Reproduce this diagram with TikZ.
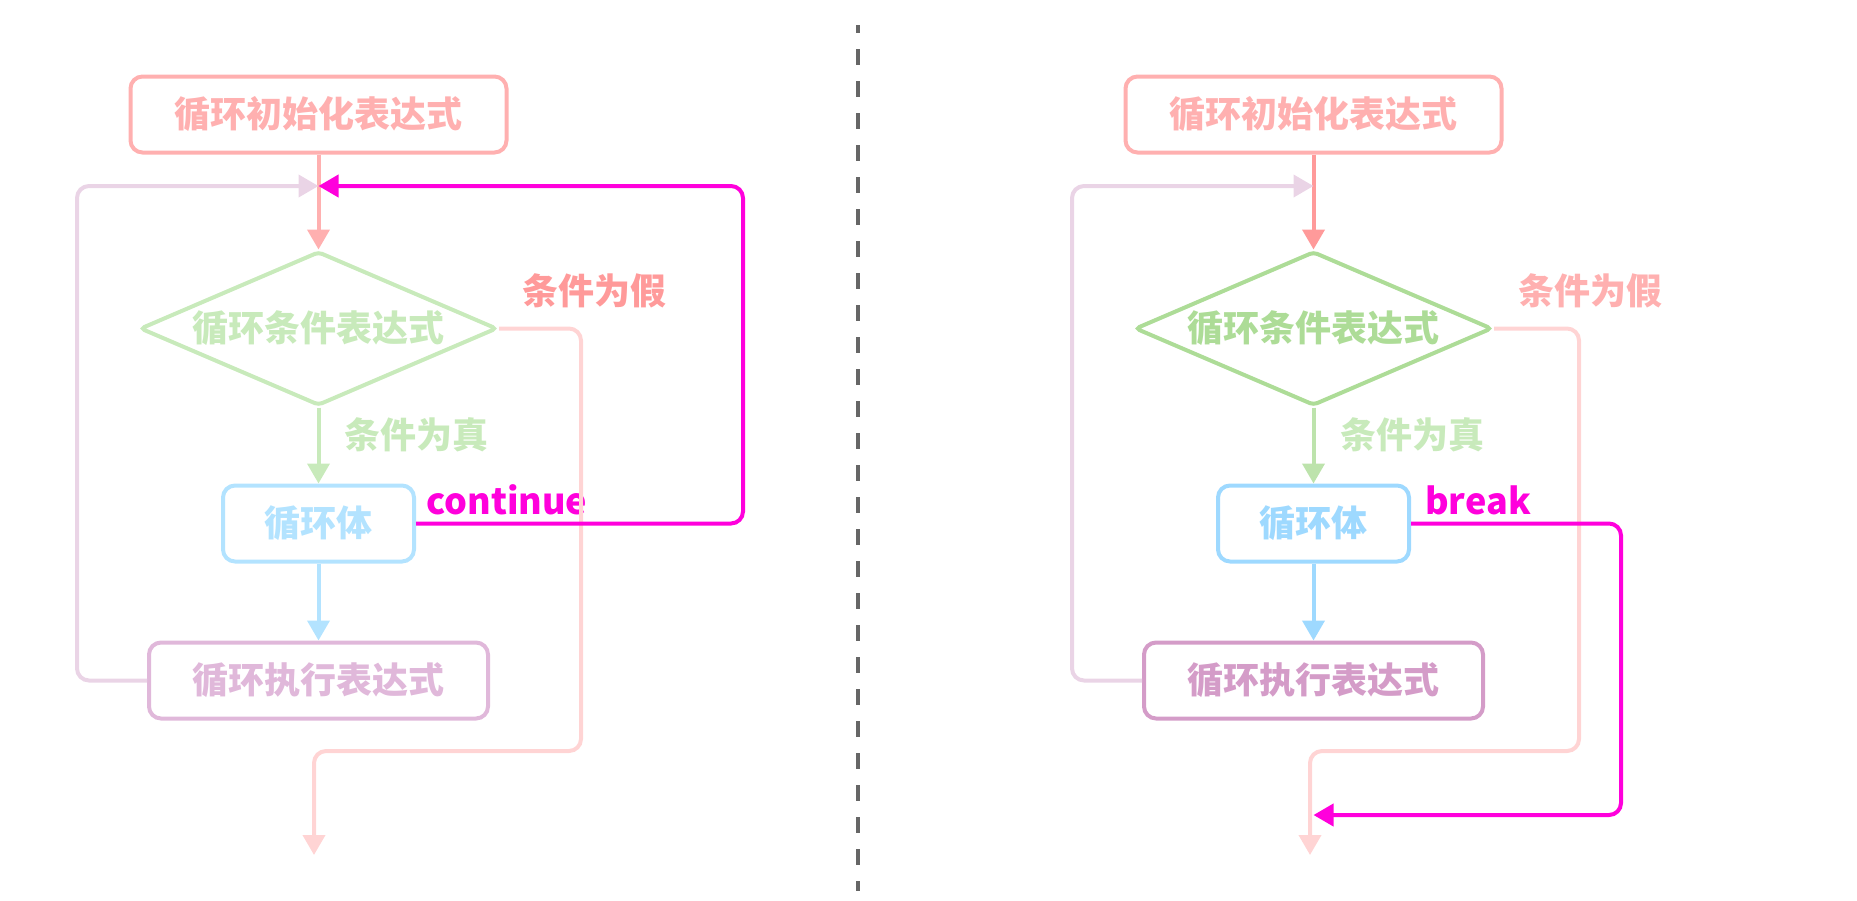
\documentclass[tikz,border=0pt]{standalone}
\usepackage{fontspec}
\setmainfont{Noto Sans CJK SC}
\usepackage{tikz}
\usetikzlibrary{arrows.meta,positioning,shapes.geometric}

\definecolor{initc}{HTML}{FFB0B0}
\definecolor{initd}{HTML}{FF9A9A}
\definecolor{condc}{HTML}{C8EABB}
\definecolor{condd}{HTML}{ADDC97}
\definecolor{bodyc}{HTML}{B3E3FF}
\definecolor{bodyd}{HTML}{9ED9FF}
\definecolor{execc}{HTML}{E0B8DA}
\definecolor{execd}{HTML}{D49CC8}
\definecolor{backc}{HTML}{EAD4E6}
\definecolor{falsec}{HTML}{FFD4D4}
\definecolor{jumpc}{HTML}{FF00DC}
\definecolor{sepc}{HTML}{666666}

\begin{document}
\begin{tikzpicture}[
  x=1pt,y=-1pt,
  >={Triangle[width=22pt,length=20pt]},
  box/.style={draw,rounded corners=12pt,line width=4pt,minimum height=76pt,inner sep=0pt,font=\fontsize{36}{40}\selectfont\bfseries},
  cond/.style={draw,diamond,aspect=2.32,rounded corners=4pt,line width=4pt,minimum width=357pt,minimum height=154pt,inner sep=0pt,font=\fontsize{36}{40}\selectfont\bfseries},
  lab/.style={inner sep=0pt,font=\fontsize{36}{40}\selectfont\bfseries},
  kw/.style={inner sep=0pt,font=\fontsize{36}{40}\selectfont\bfseries,text=jumpc},
  link/.style={->,line width=4pt},
  back/.style={->,line width=4pt,rounded corners=12pt},
  jump/.style={->,line width=4pt,rounded corners=12pt,color=jumpc}
]
\useasboundingbox (0,0) rectangle (1857,900);

% left: continue
\node[box,draw=initc,text=initc,minimum width=376pt] (i1) at (318.5,114.5) {循环初始化表达式};
\node[cond,draw=condc,text=condc,below=95pt of i1] (d1) {循环条件表达式};
\node[box,draw=bodyc,text=bodyc,minimum width=191pt,below=76pt of d1] (b1) {循环体};
\node[box,draw=execc,text=execc,minimum width=339pt,below=77pt of b1] (e1) {循环执行表达式};
\node[lab,text=initd] (f1) at (594,291) {条件为假};
\node[lab,text=condc] (t1) at (416,435) {条件为真};
\node[kw,anchor=west] (c1) at (426,500) {continue};
\coordinate (j1) at (318.5,186);
\coordinate (o1) at (314,855);

\draw[link,initc] (i1) -- (d1);
\draw[link,condc] (d1) -- (b1);
\draw[link,bodyc] (b1) -- (e1);
\draw[back,backc] (e1.west) -- ++(-70,0) |- (j1);
\draw[back,falsec] (d1.east) -| (581,751) -| (o1);
\draw[jump] (b1.east) -- ++(327,0) |- (j1);

% divider
\draw[sepc,line width=4pt,dash pattern=on 16pt off 16pt,dash phase=8pt] (857.5,25) -- (857.5,891);

% right: break
\node[box,draw=initc,text=initc,minimum width=376pt] (i2) at (1313.5,114.5) {循环初始化表达式};
\node[cond,draw=condd,text=condd,below=95pt of i2] (d2) {循环条件表达式};
\node[box,draw=bodyd,text=bodyd,minimum width=191pt,below=76pt of d2] (b2) {循环体};
\node[box,draw=execd,text=execd,minimum width=339pt,below=77pt of b2] (e2) {循环执行表达式};
\node[lab,text=initc] (f2) at (1590,291) {条件为假};
\node[lab,text=condc] (t2) at (1412,435) {条件为真};
\node[kw,anchor=west] (k2) at (1425,500) {break};
\coordinate (j2) at (1313.5,186);
\coordinate (o2) at (1310,855);
\coordinate (m2) at (1313.5,815);

\draw[link,initd] (i2) -- (d2);
\draw[link,condd!80!white] (d2) -- (b2);
\draw[link,bodyd] (b2) -- (e2);
\draw[back,backc] (e2.west) -- ++(-70,0) |- (j2);
\draw[back,falsec] (d2.east) -| (1579,751) -| (o2);
\draw[jump] (b2.east) -- ++(210,0) |- (m2);
\end{tikzpicture}
\end{document}
